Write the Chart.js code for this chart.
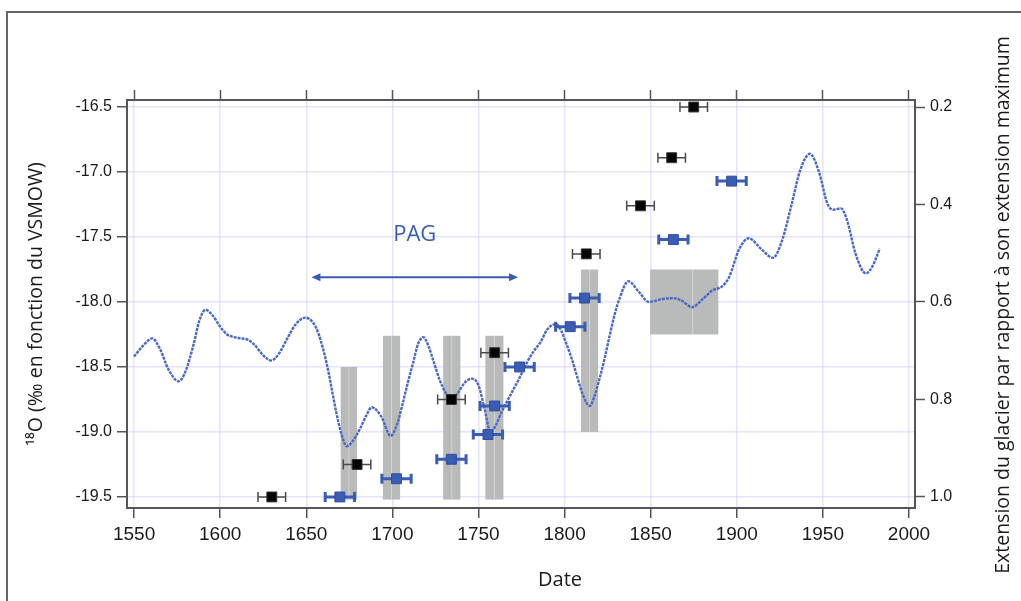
<!DOCTYPE html>
<html><head><meta charset="utf-8">
<script src="https://cdn.jsdelivr.net/npm/chart.js@4.4.1/dist/chart.umd.min.js"></script>
<style>html,body{margin:0;padding:0;background:#fff;overflow:hidden}#wrap{width:1021px;height:601px;position:relative}</style>
</head><body><div id="wrap"><canvas id="c" width="1021" height="601"></canvas></div>
<script>
// ---- data ----
const curveYears = [1550,1555,1560.5,1565,1570,1576,1580,1584.5,1588,1591.5,1596,1600,1604,1608,1612,1616,1620,1625,1629.5,1634,1639,1644,1649.5,1654,1657,1661.8,1667.6,1670.5,1673.5,1677,1681,1685,1688,1693.5,1699,1703,1706,1709,1712,1715,1718,1721,1724,1727.5,1731,1734.3,1738,1742,1746,1750,1753.5,1757,1760,1763,1766,1770,1774,1778,1782,1786,1790,1795,1798,1801,1804,1807,1810.5,1814.5,1817.5,1820.5,1823.5,1826,1829,1832,1837,1843,1849,1856,1863,1868,1874,1880,1886,1891.5,1895.5,1901.5,1907,1914,1921,1926.5,1932,1937,1942.5,1948,1952.5,1956,1960.5,1964,1969,1975,1979,1983];
const curveValues = [-18.42,-18.34,-18.28,-18.36,-18.52,-18.61,-18.53,-18.33,-18.14,-18.06,-18.11,-18.19,-18.25,-18.27,-18.28,-18.29,-18.33,-18.41,-18.45,-18.40,-18.28,-18.17,-18.12,-18.16,-18.24,-18.47,-18.86,-19.02,-19.11,-19.07,-18.98,-18.87,-18.81,-18.88,-19.03,-18.93,-18.78,-18.62,-18.47,-18.32,-18.27,-18.34,-18.46,-18.60,-18.70,-18.75,-18.70,-18.62,-18.59,-18.64,-18.82,-19.00,-18.95,-18.86,-18.78,-18.68,-18.58,-18.47,-18.38,-18.31,-18.21,-18.17,-18.22,-18.32,-18.43,-18.56,-18.71,-18.80,-18.72,-18.58,-18.42,-18.27,-18.10,-17.97,-17.84,-17.92,-18.00,-17.98,-17.97,-17.99,-18.04,-17.98,-17.91,-17.88,-17.81,-17.59,-17.51,-17.59,-17.66,-17.52,-17.24,-16.98,-16.86,-17.01,-17.24,-17.29,-17.28,-17.37,-17.63,-17.78,-17.72,-17.59];

const blackYears  = [1630, 1679.5, 1734.3, 1759.4, 1812.6, 1844.1, 1862.2, 1875];
const blackValues = [-19.5, -19.25, -18.75, -18.39, -17.63, -17.26, -16.89, -16.5];
const blackErr    = [8, 8, 8, 8, 8, 8, 8, 8];

const blueYears  = [1669.5, 1702.4, 1734.3, 1755.5, 1759.4, 1773.9, 1803.3, 1811.6, 1863.2, 1897];
const blueValues = [-19.5, -19.36, -19.21, -19.02, -18.8, -18.5, -18.19, -17.97, -17.52, -17.07];
const blueErr    = [8.5, 8.5, 8.5, 8.5, 8.5, 8.5, 8.5, 8.5, 8.5, 8.5];

const boxStart  = [1670, 1694.5, 1729.5, 1754, 1809.5, 1849.7];
const boxEnd    = [1679.5, 1704.5, 1739.5, 1764.5, 1819.5, 1889.3];
const boxTop    = [-18.5, -18.26, -18.26, -18.26, -17.75, -17.75];
const boxBottom = [-19.52, -19.52, -19.52, -19.52, -19.0, -18.25];
const boxMid    = [1674.8, 1699.5, 1734.5, 1759.3, 1814.5, 1874.4];

const xTicks  = [1550,1600,1650,1700,1750,1800,1850,1900,1950,2000];
const yTicks  = [-16.5,-17.0,-17.5,-18.0,-18.5,-19.0,-19.5];
const y2Ticks = [0.2,0.4,0.6,0.8,1.0];

const pagStart = 1653, pagEnd = 1773, pagLevel = -17.81;
const pagLabelYear = 1713, pagLabelValue = -17.48, pagText = 'PAG';

const yTitle  = '¹⁸O (‰ en fonction du VSMOW)';
const y2Title = 'Extension du glacier par rapport à son extension maximum';
const xTitle  = 'Date';

// ---- styles ----
const titleFont = '"Open Sans","Noto Sans",sans-serif';
const tickFontY = '"Liberation Sans",Arial,sans-serif';
const tickFontX = '"Liberation Sans Narrow","Liberation Sans",Arial,sans-serif';
const gridCol = 'rgba(205,205,245,0.55)';
const axisCol = '#555';
const blueCol = '#3a5cb2';

const xMin = 1545.9, xMax = 2003.5, yMin = -19.585, yMax = -16.446;
const slope = 0.8 / 3; // y2 units per y unit
const y2Top = 0.2 + (-16.5 - yMax) * slope;
const y2Bottom = 1.0 + (-19.5 - yMin) * slope;

const decor = {
  id: 'decor',
  beforeDraw(chart) {
    const ctx = chart.ctx;
    ctx.save();
    ctx.fillStyle = '#fff';
    ctx.fillRect(0, 0, chart.width, chart.height);
    ctx.strokeStyle = '#666';
    ctx.lineWidth = 2;
    ctx.strokeRect(7, 12, chart.width + 50, chart.height + 50);
    ctx.restore();
  },
  beforeDatasetsDraw(chart) {
    const ctx = chart.ctx, xs = chart.scales.x, ys = chart.scales.y;
    ctx.save();
    for (let i = 0; i < boxStart.length; i++) {
      const x1 = xs.getPixelForValue(boxStart[i]), x2 = xs.getPixelForValue(boxEnd[i]);
      const y1 = ys.getPixelForValue(boxTop[i]), y2 = ys.getPixelForValue(boxBottom[i]);
      ctx.fillStyle = '#b9baba';
      ctx.fillRect(x1, y1, x2 - x1, y2 - y1);
      const xm = xs.getPixelForValue(boxMid[i]);
      ctx.strokeStyle = 'rgba(222,222,222,0.7)';
      ctx.lineWidth = 1;
      ctx.beginPath(); ctx.moveTo(xm, y1); ctx.lineTo(xm, y2); ctx.stroke();
    }
    const ax1 = xs.getPixelForValue(pagStart), ax2 = xs.getPixelForValue(pagEnd), ay = ys.getPixelForValue(pagLevel);
    ctx.strokeStyle = blueCol; ctx.fillStyle = blueCol; ctx.lineWidth = 2;
    ctx.beginPath(); ctx.moveTo(ax1 + 6, ay); ctx.lineTo(ax2 - 6, ay); ctx.stroke();
    ctx.beginPath(); ctx.moveTo(ax1, ay); ctx.lineTo(ax1 + 9, ay - 4); ctx.lineTo(ax1 + 9, ay + 4); ctx.closePath(); ctx.fill();
    ctx.beginPath(); ctx.moveTo(ax2, ay); ctx.lineTo(ax2 - 9, ay - 4); ctx.lineTo(ax2 - 9, ay + 4); ctx.closePath(); ctx.fill();
    ctx.font = '22px ' + titleFont;
    ctx.textAlign = 'center'; ctx.textBaseline = 'middle';
    ctx.fillText(pagText, xs.getPixelForValue(pagLabelYear), ys.getPixelForValue(pagLabelValue));
    ctx.restore();
  },
  afterDraw(chart) {
    const ctx = chart.ctx;
    ctx.save();
    ctx.fillStyle = '#1a1a1a';
    ctx.font = '20px ' + titleFont;
    ctx.textAlign = 'center'; ctx.textBaseline = 'middle';
    ctx.fillText(xTitle, 560, 580);
    ctx.font = '19.5px ' + titleFont;
    ctx.translate(1003, 305);
    ctx.rotate(-Math.PI / 2);
    ctx.fillText(y2Title, 0, 0);
    ctx.restore();
  }
};

const errorBars = {
  id: 'errorBars',
  beforeDatasetDraw(chart, args) {
    const idx = args.index;
    if (idx !== 1 && idx !== 2) return;
    const xs = chart.scales.x, ys = chart.scales.y, ctx = chart.ctx;
    const yrs = idx === 1 ? blackYears : blueYears;
    const vals = idx === 1 ? blackValues : blueValues;
    const errs = idx === 1 ? blackErr : blueErr;
    ctx.save();
    ctx.strokeStyle = idx === 1 ? '#4a4a4a' : blueCol;
    ctx.lineWidth = idx === 1 ? 1.5 : 3;
    for (let i = 0; i < yrs.length; i++) {
      const xa = xs.getPixelForValue(yrs[i] - errs[i]), xb = xs.getPixelForValue(yrs[i] + errs[i]);
      const y = ys.getPixelForValue(vals[i]);
      ctx.beginPath();
      ctx.moveTo(xa, y); ctx.lineTo(xb, y);
      ctx.moveTo(xa, y - 5); ctx.lineTo(xa, y + 5);
      ctx.moveTo(xb, y - 5); ctx.lineTo(xb, y + 5);
      ctx.stroke();
    }
    ctx.restore();
  }
};

const setTicks = arr => s => { s.ticks = arr.map(v => ({ value: v })); };

new Chart(document.getElementById('c'), {
  type: 'scatter',
  data: {
    datasets: [
      {
        label: 'curve',
        data: curveYears.map((x, i) => ({ x, y: curveValues[i] })),
        showLine: true, pointRadius: 0, borderColor: '#4a68c6', borderWidth: 2.4,
        borderDash: [3, 1], cubicInterpolationMode: 'monotone', fill: false, order: 3
      },
      {
        label: 'black',
        data: blackYears.map((x, i) => ({ x, y: blackValues[i] })),
        pointStyle: 'rect', pointRadius: 7, backgroundColor: '#050505', borderColor: '#333', borderWidth: 1, order: 2
      },
      {
        label: 'blue',
        data: blueYears.map((x, i) => ({ x, y: blueValues[i] })),
        pointStyle: 'rect', pointRadius: 7, backgroundColor: blueCol, borderColor: '#2e4f9e', borderWidth: 1, order: 1
      }
    ]
  },
  options: {
    responsive: false, animation: false, devicePixelRatio: 1,
    layout: { padding: 0 },
    plugins: { legend: { display: false }, tooltip: { enabled: false } },
    scales: {
      x: {
        type: 'linear', position: 'bottom', min: xMin, max: xMax,
        afterBuildTicks: setTicks(xTicks), afterFit: s => { s.height = 93; },
        ticks: { font: { family: tickFontX, size: 19 }, color: '#1a1a1a', padding: 5, maxRotation: 0, autoSkip: false, callback: v => String(v) },
        grid: { color: gridCol, lineWidth: 1.5, borderDash: [1.5, 2], tickColor: axisCol, tickLength: 10, tickWidth: 1.5, tickBorderDash: [] },
        border: { display: true, color: axisCol, width: 2 }
      },
      xTop: {
        type: 'linear', position: 'top', min: xMin, max: xMax,
        afterBuildTicks: setTicks(xTicks), afterFit: s => { s.height = 100; },
        ticks: { display: false },
        grid: { drawOnChartArea: false, tickColor: axisCol, tickLength: 10, tickWidth: 1.5 },
        border: { display: true, color: axisCol, width: 2 }
      },
      y: {
        type: 'linear', position: 'left', min: yMin, max: yMax,
        afterBuildTicks: setTicks(yTicks), afterFit: s => { s.width = 127; },
        ticks: { font: { family: tickFontY, size: 16 }, color: '#1a1a1a', padding: 5, callback: v => Number(v).toFixed(1) },
        grid: { color: gridCol, lineWidth: 1.5, borderDash: [1.5, 2], tickColor: axisCol, tickLength: 10, tickWidth: 1.5, tickBorderDash: [] },
        border: { display: true, color: axisCol, width: 2 },
        title: { display: true, text: yTitle, color: '#1a1a1a', font: { family: titleFont, size: 19.5 }, padding: { top: 25, bottom: 0 } }
      },
      y2: {
        type: 'linear', position: 'right', reverse: true, min: y2Top, max: y2Bottom,
        afterBuildTicks: setTicks(y2Ticks), afterFit: s => { s.width = 106; },
        ticks: { font: { family: tickFontY, size: 16 }, color: '#1a1a1a', padding: 5, callback: v => Number(v).toFixed(1) },
        grid: { drawOnChartArea: false, tickColor: axisCol, tickLength: 10, tickWidth: 1.5 },
        border: { display: true, color: axisCol, width: 2 }
      }
    }
  },
  plugins: [decor, errorBars]
});
</script>
</body></html>
